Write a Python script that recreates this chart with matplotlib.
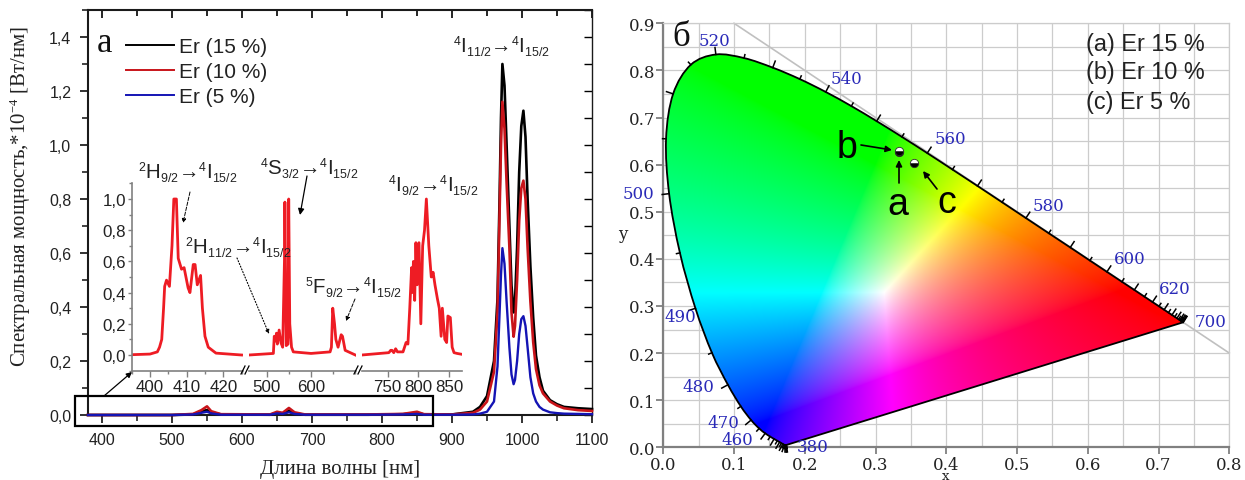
import numpy as np
import matplotlib
matplotlib.use('Agg')
import matplotlib.pyplot as plt
import matplotlib._mathtext as _mt
from matplotlib.patches import Rectangle, PathPatch
from matplotlib.path import Path
from matplotlib.ticker import MultipleLocator

plt.rcParams['font.family'] = ['Liberation Sans', 'DejaVu Sans']
plt.rcParams['mathtext.default'] = 'regular'
_mt.SHRINK_FACTOR = 0.6

W, H = 1245, 481
SERIF = ['Liberation Serif', 'DejaVu Serif']
WIDE = ['DejaVu Serif']

# ---- panel a: main spectra
main_nm = [380, 500, 530, 542, 550, 556, 570, 640, 650, 658, 667, 675, 690, 780, 830, 850, 860, 900,
           930, 940, 950, 960, 965, 968, 970, 972, 975, 978, 982, 985, 988, 990, 993, 996, 999, 1002,
           1005, 1008, 1012, 1016, 1020, 1025, 1030, 1040, 1050, 1060, 1080, 1100]
er15 = [0, 0, .002, .014, .018, .01, .002, .001, .008, .006, .016, .006, .001, .001, .003, .008, .002, .002,
        .012, .03, .07, .20, .43, .81, 1.1, 1.30, 1.22, 1.0, .7, .48, .38, .42, .62, .90, 1.07, 1.127,
        1.03, .8, .55, .36, .22, .14, .09, .055, .04, .03, .025, .022]
er10 = [0, 0, .004, .018, .032, .014, .003, .002, .012, .008, .026, .01, .002, .002, .004, .012, .003, .002,
        .008, .02, .05, .16, .38, .75, 1.0, 1.16, 1.06, .86, .62, .38, .29, .33, .5, .72, .84, .868,
        .80, .62, .42, .27, .17, .11, .08, .05, .035, .025, .018, .015]
er5 = [0, 0, .002, .008, .012, .006, .001, .001, .006, .004, .010, .004, .001, .001, .002, .004, .001, .001,
       .002, .005, .012, .05, .18, .38, .52, .618, .56, .42, .25, .15, .114, .13, .2, .3, .355, .366,
       .33, .25, .14, .08, .05, .03, .02, .01, .007, .005, .004, .003]
series_labels = ['Er (15 %)', 'Er (10 %)', 'Er (5 %)']
main_yticks = [0.0, 0.2, 0.4, 0.6, 0.8, 1.0, 1.2, 1.4]
main_yticklabels = ['0,0', '0,2', '0,4', '0,6', '0,8', '1,0', '1,2', '1,4']
main_xticks = [400, 500, 600, 700, 800, 900, 1000, 1100]

# ---- panel a: inset spectra, three broken segments
seg1_nm = [395, 400, 402, 402.6, 403.2, 403.7, 404, 404.5, 405.3, 406, 406.5, 407.2, 407.7, 408.6, 409.3, 410.4,
           410.9, 411.8, 412.3, 412.9, 413.8, 414.3, 415, 415.9, 418, 425]
seg1_int = [.002, .006, .02, .05, .1, .3, .44, .48, .44, .7, 1.0, 1.0, .62, .55, .56, .43,
            .40, .58, .58, .45, .51, .3, .12, .05, .012, 0]
seg2_nm = [460, 515, 517, 520, 522, 524, 528, 532, 536, 540, 541, 544, 548, 549.6, 552, 556, 560, 600,
           643, 646, 649, 653, 656, 661, 668, 671, 677, 700]
seg2_int = [0, .01, .12, .09, .14, .07, .16, .08, .05, .6, .98, .06, .07, 1.0, .2, .05, .02, .01,
            .02, .05, .3, .2, .1, .05, .13, .12, .03, 0]
seg3_nm = [708, 752, 755, 757, 760, 763, 766, 775, 780, 783, 786, 789, 790, 792, 794, 796, 798, 801, 804, 807, 810,
           813, 817, 821, 824, 827, 831, 834, 837, 839, 843, 846, 848, 852, 855, 858, 863, 870]
seg3_int = [0, .015, .03, .03, .015, .04, .02, .02, .08, .07, .3, .56, .4, .6, .35, .72, .45, .72, .2, .7, .8,
            1.0, .7, .5, .53, .45, .36, .3, .12, .3, .1, .08, .25, .24, .05, .015, .01, .005]
inset_yticks = [0.0, 0.2, 0.4, 0.6, 0.8, 1.0]
inset_yticklabels = ['0,0', '0,2', '0,4', '0,6', '0,8', '1,0']

# ---- panel b: CIE 1931 spectral locus
locus_nm = [380, 385, 390, 395, 400, 405, 410, 415, 420, 425, 430, 435, 440, 445, 450, 455, 460, 465, 470, 475, 480,
            485, 490, 495, 500, 505, 510, 515, 520, 525, 530, 535, 540, 545, 550, 555, 560, 565, 570, 575, 580,
            585, 590, 595, 600, 605, 610, 615, 620, 625, 630, 635, 640, 645, 650, 655, 660, 665, 670, 675, 680,
            685, 690, 695, 700]
locus_x = [.1741, .1740, .1738, .1736, .1733, .1730, .1726, .1721, .1714, .1703, .1689, .1669, .1644, .1611, .1566,
           .1510, .1440, .1355, .1241, .1096, .0913, .0687, .0454, .0235, .0082, .0039, .0139, .0389, .0743, .1142,
           .1547, .1929, .2296, .2658, .3016, .3373, .3731, .4087, .4441, .4788, .5125, .5448, .5752, .6029, .6270,
           .6482, .6658, .6801, .6915, .7006, .7079, .7140, .7190, .7230, .7260, .7283, .7300, .7311, .7320, .7327,
           .7334, .7340, .7344, .7346, .7347]
locus_y = [.0050, .0050, .0049, .0049, .0048, .0048, .0048, .0048, .0051, .0058, .0069, .0086, .0109, .0138, .0177,
           .0227, .0297, .0399, .0578, .0868, .1327, .2007, .2950, .4127, .5384, .6548, .7502, .8120, .8338, .8262,
           .8059, .7816, .7543, .7243, .6923, .6589, .6245, .5896, .5547, .5202, .4866, .4544, .4242, .3965, .3725,
           .3514, .3340, .3197, .3083, .2993, .2920, .2859, .2809, .2770, .2740, .2717, .2700, .2689, .2680, .2673,
           .2666, .2660, .2656, .2654, .2653]
point_a = (.3330, .6270)
point_b = (.3330, .6300)
point_c = (.3550, .6036)
xy_xticks = [0.0, 0.1, 0.2, 0.3, 0.4, 0.5, 0.6, 0.7, 0.8]
xy_yticks = [0.0, 0.1, 0.2, 0.3, 0.4, 0.5, 0.6, 0.7, 0.8, 0.9]
wl_labels = ['520', '540', '560', '580', '600', '620', '700', '500', '490', '480', '470', '460', '380']
wl_px = [(714, 41), (847, 79), (950, 140), (1048, 207), (1130, 260), (1175, 290), (1211, 323),
         (638, 195), (680, 318), (698, 388), (723, 424), (737, 441), (813, 448)]
key_labels = ['(a) Er 15 %', '(b) Er 10 %', '(c) Er 5 %']


def axes_px(l, t, r, b, **kw):
    return fig.add_axes([l / W, 1 - b / H, (r - l) / W, (b - t) / H], **kw)


fig = plt.figure(figsize=(W / 100, H / 100), dpi=100, facecolor='white')

# ================= panel a =================
ax = axes_px(88, 11, 592, 416)
ax.plot(main_nm, er15, color='#000000', lw=1.9, label=series_labels[0], clip_on=False, zorder=3)
ax.plot(main_nm, er10, color='#c8141a', lw=1.9, label=series_labels[1], clip_on=False, zorder=3)
ax.plot(main_nm, er5, color='#1414b4', lw=1.7, label=series_labels[2], clip_on=False, zorder=3)
ax.set_xlim(380, 1100)
ax.set_ylim(0, 1.5)
ax.set_xticks(main_xticks)
ax.set_yticks(main_yticks)
ax.set_yticklabels(main_yticklabels)
ax.xaxis.set_minor_locator(MultipleLocator(50))
ax.yaxis.set_minor_locator(MultipleLocator(0.1))
ax.tick_params(which='major', labelsize=11.5, width=1.3, length=6, direction='out', color='#222222', labelcolor='#222222', pad=6)
ax.tick_params(which='minor', width=1.2, length=4, direction='out', color='#222222')
for s in ax.spines.values():
    s.set_linewidth(1.5)
    s.set_color('#1a1a1a')
ax.spines['right'].set_linewidth(1.0)

# opposite-side inward ticks
axt = ax.secondary_xaxis('top')
axt.set_xticks(main_xticks)
axt.xaxis.set_minor_locator(MultipleLocator(50))
axt.tick_params(which='major', direction='in', length=6, width=1.2, labeltop=False)
axt.tick_params(which='minor', direction='in', length=4, width=1.2)
axt.spines['top'].set_visible(False)
axr = ax.secondary_yaxis('right')
axr.yaxis.set_major_locator(MultipleLocator(0.1))
axr.tick_params(which='major', direction='in', length=6, width=1.0, labelright=False)
axr.spines['right'].set_visible(False)

leg = ax.legend(loc='upper left', bbox_to_anchor=((126 - 88) / 504, 1 - (38 - 11) / 405), frameon=False,
                fontsize=15, handlelength=2.3, handletextpad=0.25, labelspacing=0.3, borderpad=0, borderaxespad=0)
for t in leg.get_texts():
    t.set_color('#222222')
for h in leg.get_lines():
    h.set_linewidth(1.4)

# inset, broken in three
segs = [(131.7, 242.7, 395, 425.3, seg1_nm, seg1_int, [400, 410, 420], 5),
        (249.0, 355.7, 460, 700.8, seg2_nm, seg2_int, [500, 600], 50),
        (361.7, 461.7, 707.8, 870.5, seg3_nm, seg3_int, [750, 800, 850], None)]
for i, (l, r, x0, x1, xs, ys, ticks, minor) in enumerate(segs):
    a = axes_px(l, 184.4, r, 371.6)
    a.patch.set_alpha(0)
    a.plot(xs, ys, color='#ee1c24', lw=2.0)
    a.set_xlim(x0, x1)
    a.set_ylim(-0.1, 1.1)
    a.set_xticks(ticks)
    if minor:
        a.xaxis.set_minor_locator(MultipleLocator(minor))
    a.tick_params(axis='x', which='major', length=4, width=1, color='#808080', labelsize=12.2, labelcolor='#222222', pad=2)
    a.tick_params(axis='x', which='minor', length=2.5, width=1, color='#808080')
    for s in ('top', 'right'):
        a.spines[s].set_visible(False)
    a.spines['bottom'].set_color('#808080')
    a.spines['bottom'].set_linewidth(1.2)
    if i == 0:
        a.spines['left'].set_color('#808080')
        a.spines['left'].set_linewidth(1.2)
        a.set_yticks(inset_yticks)
        a.set_yticklabels(inset_yticklabels)
        a.yaxis.set_minor_locator(MultipleLocator(0.1))
        a.tick_params(axis='y', which='major', length=3, width=1, color='#808080', labelsize=12.2, labelcolor='#222222', pad=1)
        a.tick_params(axis='y', which='minor', length=2, width=1, color='#808080')
    else:
        a.spines['left'].set_visible(False)
        a.set_yticks([])

# ================= panel b =================
bx = axes_px(663.3, 24.3, 1229.3, 448.3)
bx.set_xlim(0, 0.8)
bx.set_ylim(0, 0.9)
bx.set_axisbelow(True)
bx.set_xticks(xy_xticks)
bx.set_yticks(xy_yticks)
bx.xaxis.set_minor_locator(MultipleLocator(0.05))
bx.yaxis.set_minor_locator(MultipleLocator(0.05))
bx.grid(True, which='both', color='#cccccc', lw=0.9)
bx.tick_params(which='major', length=5, width=1.3, color='#808080', labelsize=12, labelcolor='#222222', pad=1)
bx.tick_params(which='minor', length=0)
for lab in bx.get_xticklabels() + bx.get_yticklabels():
    lab.set_fontfamily(WIDE)
for s in ('top', 'right'):
    bx.spines[s].set_color('#cccccc')
    bx.spines[s].set_linewidth(0.9)
for s in ('left', 'bottom'):
    bx.spines[s].set_color('#808080')
    bx.spines[s].set_linewidth(1.6)

bx.plot([0.1, 0.8], [0.9, 0.2], color='#c0c0c0', lw=1.2, clip_on=False)

# chromaticity colour field
gx, gy = np.meshgrid(np.linspace(0, .8, 640), np.linspace(1e-3, .9, 720))
X = gx / gy
Z = (1 - gx - gy) / gy
R = 3.2406 * X - 1.5372 - 0.4986 * Z
G = -0.9689 * X + 1.8758 + 0.0415 * Z
B = 0.0557 * X - 0.2040 + 1.0570 * Z
rgb = np.clip(np.dstack([R, G, B]), 0, None)
rgb = rgb / rgb.max(axis=2, keepdims=True).clip(1e-6)
rgb = np.clip(rgb, 0, 1) ** (1 / 1.5)
im = bx.imshow(rgb, origin='lower', extent=(0, .8, 0, .9), aspect='auto', interpolation='bilinear', zorder=2)

# smooth outline through the locus points (Bezier segments), closed by the purple line
P0 = np.c_[locus_x, locus_y]
verts = [tuple(P0[0])]
codes = [Path.MOVETO]
for i in range(len(P0) - 1):
    pm = P0[max(i - 1, 0)]
    p1 = P0[i]
    p2 = P0[i + 1]
    pn = P0[min(i + 2, len(P0) - 1)]
    verts += [tuple(p1 + (p2 - pm) / 6), tuple(p2 - (pn - p1) / 6), tuple(p2)]
    codes += [Path.CURVE4] * 3
verts.append(tuple(P0[0]))
codes.append(Path.LINETO)
outline = PathPatch(Path(verts, codes), fc='none', ec='black', lw=1.3, transform=bx.transData, zorder=3)
bx.add_patch(outline)
im.set_clip_path(outline)

# wavelength ticks normal to the locus
fig.canvas.draw()
P = bx.transData.transform(P0)
T = np.gradient(P, axis=0)
T = T / np.linalg.norm(T, axis=1, keepdims=True).clip(1e-6)
N = np.c_[-T[:, 1], T[:, 0]]
inv = bx.transData.inverted()
for nm, p, n in zip(locus_nm, P, N):
    L = 7.0 if nm % 10 == 0 else 3.5
    q = inv.transform([p, p + n * L])
    bx.plot(q[:, 0], q[:, 1], color='black', lw=1.1, clip_on=False, zorder=3)

for pt in (point_a, point_b, point_c):
    bx.plot(*pt, marker='o', ms=6, fillstyle='bottom', markerfacecolor='black', markerfacecoloralt='white',
            markeredgecolor='#303030', markeredgewidth=0.6, ls='none', zorder=5)

# ================= overlay in pixel coordinates =================
ov = fig.add_axes([0, 0, 1, 1], facecolor='none', zorder=10)
ov.set_xlim(0, W)
ov.set_ylim(H, 0)
ov.axis('off')

ov.add_patch(Rectangle((75, 397), 358, 30, fill=False, ec='black', lw=1.6))
ov.text(340, 470, 'Длина волны [нм]', family=SERIF, fontsize=15, ha='center', va='center', color='#222222')
ov.text(21, 196, 'Спектральная мощность,*10$^{-4}$ [Вт/нм]', family=SERIF, fontsize=15, rotation=90,
        ha='center', va='center', color='#222222')
ov.text(105, 43, 'а', family=SERIF, fontsize=25, ha='center', va='center', color='#111111')
ov.text(681, 38, 'б', family=SERIF, fontsize=25, ha='center', va='center', color='#111111')
ov.text(623, 235, 'y', family=WIDE, fontsize=12, ha='center', va='center', color='#222222')
ov.text(946, 480, 'x', family=WIDE, fontsize=9.5, ha='center', va='baseline', color='#222222')

trans = [('$^{4}$I$_{11/2}$→$^{4}$I$_{15/2}$', 453, 47),
         ('$^{2}$H$_{9/2}$→$^{4}$I$_{15/2}$', 138, 173),
         ('$^{4}$S$_{3/2}$→$^{4}$I$_{15/2}$', 260, 169),
         ('$^{4}$I$_{9/2}$→$^{4}$I$_{15/2}$', 388, 186),
         ('$^{2}$H$_{11/2}$→$^{4}$I$_{15/2}$', 185, 248),
         ('$^{5}$F$_{9/2}$→$^{4}$I$_{15/2}$', 305, 288)]
for s, x, y in trans:
    ov.text(x, y, s, fontsize=14.8, ha='left', va='center', color='#222222')


def arrow(p0, p1, ls='-', lw=0.9, ms=8):
    ov.annotate('', xy=p1, xytext=p0, xycoords='data', textcoords='data',
                arrowprops=dict(arrowstyle='-|>', mutation_scale=ms, lw=lw, ls=ls, color='black',
                                shrinkA=0, shrinkB=0))


arrow((190, 193), (183, 224), ls='--', lw=0.7, ms=6)
arrow((237, 259), (269, 335), ls=':', lw=0.8, ms=6)
arrow((307, 177), (300, 216), lw=0.9, ms=9)
arrow((355, 300), (346, 322), ls='--', lw=0.7, ms=6)
arrow((104, 397), (132, 373), lw=0.9, ms=8)
arrow((861, 146), (892, 151), lw=1.2, ms=9)
arrow((899, 184), (899, 161), lw=1.2, ms=9)
arrow((937, 190), (923, 172), lw=1.2, ms=9)

# break marks on inset x-axis
for cx in (246, 359):
    for dx in (-3, 1):
        ov.plot([cx + dx - 2, cx + dx + 2], [375, 367], color='black', lw=0.9)

for s, x, y in [('b', 847, 148), ('a', 898, 205), ('c', 947, 203)]:
    ov.text(x, y, s, fontsize=27, ha='center', va='center', color='black')
for s, y in zip(key_labels, [45, 73, 102]):
    ov.text(1086, y, s, fontsize=16.8, ha='left', va='center', color='#222222')
for s, (x, y) in zip(wl_labels, wl_px):
    ov.text(x, y, s, family=WIDE, fontsize=12, ha='center', va='center', color='#2a2ab8')

fig.savefig('out.png', dpi=100)
